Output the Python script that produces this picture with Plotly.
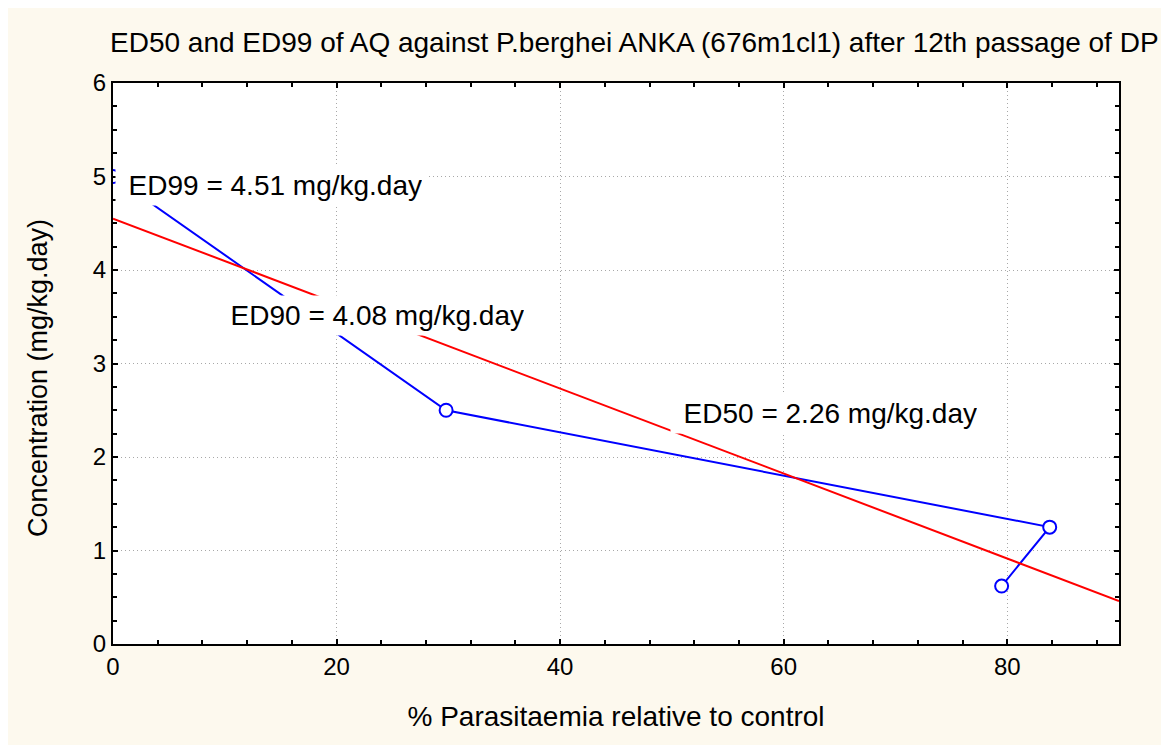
import plotly.graph_objects as go

# Data
blue_x = [0, 29.8, 83.8, 79.5]
blue_y = [5.0, 2.50, 1.25, 0.62]
red_x = [0, 90]
red_y = [4.55, 0.46]

x_ticks = [0, 20, 40, 60, 80]
y_ticks = [0, 1, 2, 3, 4, 5, 6]

labels = ["ED99 = 4.51 mg/kg.day", "ED90 = 4.08 mg/kg.day", "ED50 = 2.26 mg/kg.day"]
label_x = [0.2, 9.3, 49.8]
label_y = [4.90, 3.51, 2.46]

title_text = "ED50 and ED99 of AQ against P.berghei ANKA (676m1cl1) after 12th passage of DP"
x_title = "% Parasitaemia relative to control"
y_title = "Concentration (mg/kg.day)"

FONT = "Liberation Sans, Arial, sans-serif"
CREAM = "#FDF9EE"

fig = go.Figure()
fig.add_trace(go.Scatter(
    x=blue_x, y=blue_y, mode="lines+markers",
    line=dict(color="#0000FF", width=2),
    marker=dict(symbol="circle", size=13, color="white",
                line=dict(color="#0000FF", width=2)),
    showlegend=False, hoverinfo="skip"))
fig.add_trace(go.Scatter(
    x=red_x, y=red_y, mode="lines",
    line=dict(color="#FF0000", width=2),
    showlegend=False, hoverinfo="skip"))

for t, xx, yy in zip(labels, label_x, label_y):
    fig.add_annotation(x=xx, y=yy, xref="x", yref="y", text=t,
                       showarrow=False, xanchor="left", yanchor="middle",
                       width=302, align="right",
                       font=dict(family=FONT, size=28, color="black"),
                       bgcolor="white", borderpad=4)

# y axis title as rotated annotation (placed slightly below the axis centre, as in the reference)
fig.add_annotation(x=-75 / 1006, y=0.474, xref="paper", yref="paper",
                   text=y_title, textangle=-90, showarrow=False,
                   xanchor="center", yanchor="middle",
                   font=dict(family=FONT, size=27, color="black"))

axis_common = dict(
    showline=True, linecolor="black", linewidth=2, mirror="ticks",
    ticks="inside", ticklen=5, tickwidth=1.5, tickcolor="black",
    showgrid=True, gridcolor="#A8A8A8", gridwidth=1, griddash="1px,3px",
    zeroline=False, tickfont=dict(family=FONT, size=24, color="black"),
)

fig.update_xaxes(range=[0, 90], tickvals=x_ticks, ticktext=[str(v) for v in x_ticks],
                 minor=dict(dtick=4, tick0=0, ticks="inside", ticklen=4, tickcolor="black", showgrid=False),
                 title=dict(text=x_title,
                            font=dict(family=FONT, size=28, color="black"), standoff=28),
                 **axis_common)
fig.update_yaxes(range=[0, 6], tickvals=y_ticks, ticktext=[str(v) for v in y_ticks],
                 minor=dict(dtick=0.25, tick0=0, ticks="inside", ticklen=4, tickcolor="black", showgrid=False),
                 **axis_common)

# page has an 8px body margin; figure spans page x 8..1161, y 8..745
W, H = 1153, 737
fig.update_layout(
    width=W, height=H,
    margin=dict(l=105, r=42, t=75, b=101),
    paper_bgcolor=CREAM, plot_bgcolor="white",
    title=dict(text=title_text, xref="container", yref="container",
               x=102 / W, xanchor="left", y=1 - 34 / H, yanchor="middle",
               font=dict(family=FONT, size=28, color="black")),
    font=dict(family=FONT, color="black"),
)

fig.write_html("out.html")
